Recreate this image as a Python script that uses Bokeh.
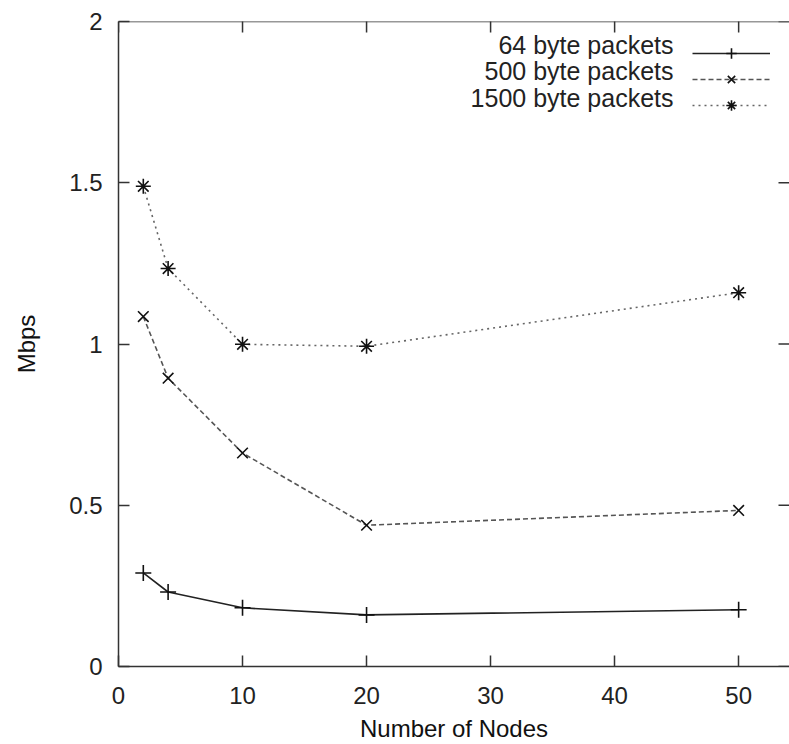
import math
from bokeh.plotting import figure
from bokeh.models import (Range1d, LinearAxis, FixedTicker, Legend, LegendItem, Label, Span)
from bokeh.embed import file_html
from bokeh.resources import INLINE

# ---- data ----
nodes = [2, 4, 10, 20, 50]
mbps_64 = [0.290, 0.231, 0.182, 0.160, 0.176]
mbps_500 = [1.085, 0.894, 0.662, 0.438, 0.484]
mbps_1500 = [1.489, 1.234, 0.999, 0.993, 1.159]
series_names = ["64 byte packets", "500 byte packets", "1500 byte packets"]
x_ticks = [0, 10, 20, 30, 40, 50]
y_ticks = [0, 0.5, 1, 1.5, 2]
y_tick_labels = ["0", "0.5", "1", "1.5", "2"]

FONT = "Liberation Sans"
AX = "#333333"
X_END = 54.1
Y_END = 2

p = figure(width=789, height=744, output_backend="svg", toolbar_location=None,
           x_range=Range1d(0, X_END), y_range=Range1d(0, Y_END),
           x_axis_location=None, y_axis_location=None,
           min_border_left=118, min_border_right=0, min_border_top=21, min_border_bottom=77)
p.outline_line_color = None
p.xgrid.grid_line_color = None
p.ygrid.grid_line_color = None
p.background_fill_color = "white"
p.border_fill_color = "white"

def style(ax):
    ax.axis_line_color = AX
    ax.axis_line_width = 1.5
    ax.major_tick_line_color = AX
    ax.major_tick_line_width = 1.5
    ax.major_tick_in = 11
    ax.major_tick_out = 0
    ax.minor_tick_in = 0
    ax.minor_tick_out = 0
    ax.major_label_text_font = FONT
    ax.major_label_text_font_size = "24px"
    ax.major_label_text_color = "#222222"
    ax.axis_label_text_font = FONT
    ax.axis_label_text_font_size = "24px"
    ax.axis_label_text_font_style = "normal"
    ax.axis_label_text_color = "#111111"

xb = LinearAxis(ticker=FixedTicker(ticks=x_ticks), axis_label="Number of Nodes")
style(xb)
xb.major_label_standoff = 20
xb.axis_label_standoff = 8
p.add_layout(xb, "below")

yl = LinearAxis(ticker=FixedTicker(ticks=y_ticks), axis_label="Mbps")
style(yl)
yl.major_label_overrides = {t: s for t, s in zip(y_ticks, y_tick_labels)}
yl.major_label_standoff = 16
yl.axis_label_standoff = 26
p.add_layout(yl, "left")

# top border of the frame, plus inward ticks on top and right edges (gnuplot style)
p.add_layout(Span(location=Y_END, dimension="width", line_color=AX, line_width=1.5))
p.scatter(x_ticks, [Y_END] * len(x_ticks), marker="dash", angle=math.pi / 2, size=22,
          line_color=AX, line_width=1.5)
p.scatter([X_END] * len(y_ticks), y_ticks, marker="dash", size=22,
          line_color=AX, line_width=1.5)

styles = [
    dict(y=mbps_64, color="#222222", dash="solid", marker="cross", size=16),
    dict(y=mbps_500, color="#555555", dash="5 3", marker="x", size=15),
    dict(y=mbps_1500, color="#666666", dash="2 4", marker="asterisk", size=15),
]

items = []
for name, st in zip(series_names, styles):
    ln = p.line(nodes, st["y"], line_color=st["color"], line_width=1.6, line_dash=st["dash"])
    sc = p.scatter(nodes, st["y"], marker=st["marker"], size=st["size"],
                   line_color="#111111", line_width=1.6, fill_color=None)
    items.append(LegendItem(label=" ", renderers=[ln, sc]))

legend = Legend(items=items, location="top_right", glyph_width=78, glyph_height=26,
                label_height=26, label_width=0, label_standoff=0, spacing=0, padding=4,
                margin=19, border_line_color=None, background_fill_alpha=0,
                label_text_font=FONT, label_text_font_size="20px")
p.add_layout(legend)

for i, name in enumerate(series_names):
    p.add_layout(Label(x=555, y=622 - 26.5 * i, x_units="screen", y_units="screen",
                       text=name, text_align="right", text_baseline="middle",
                       text_font=FONT, text_font_size="25px", text_color="#222222"))

open("out.html", "w").write(file_html(p, INLINE))
